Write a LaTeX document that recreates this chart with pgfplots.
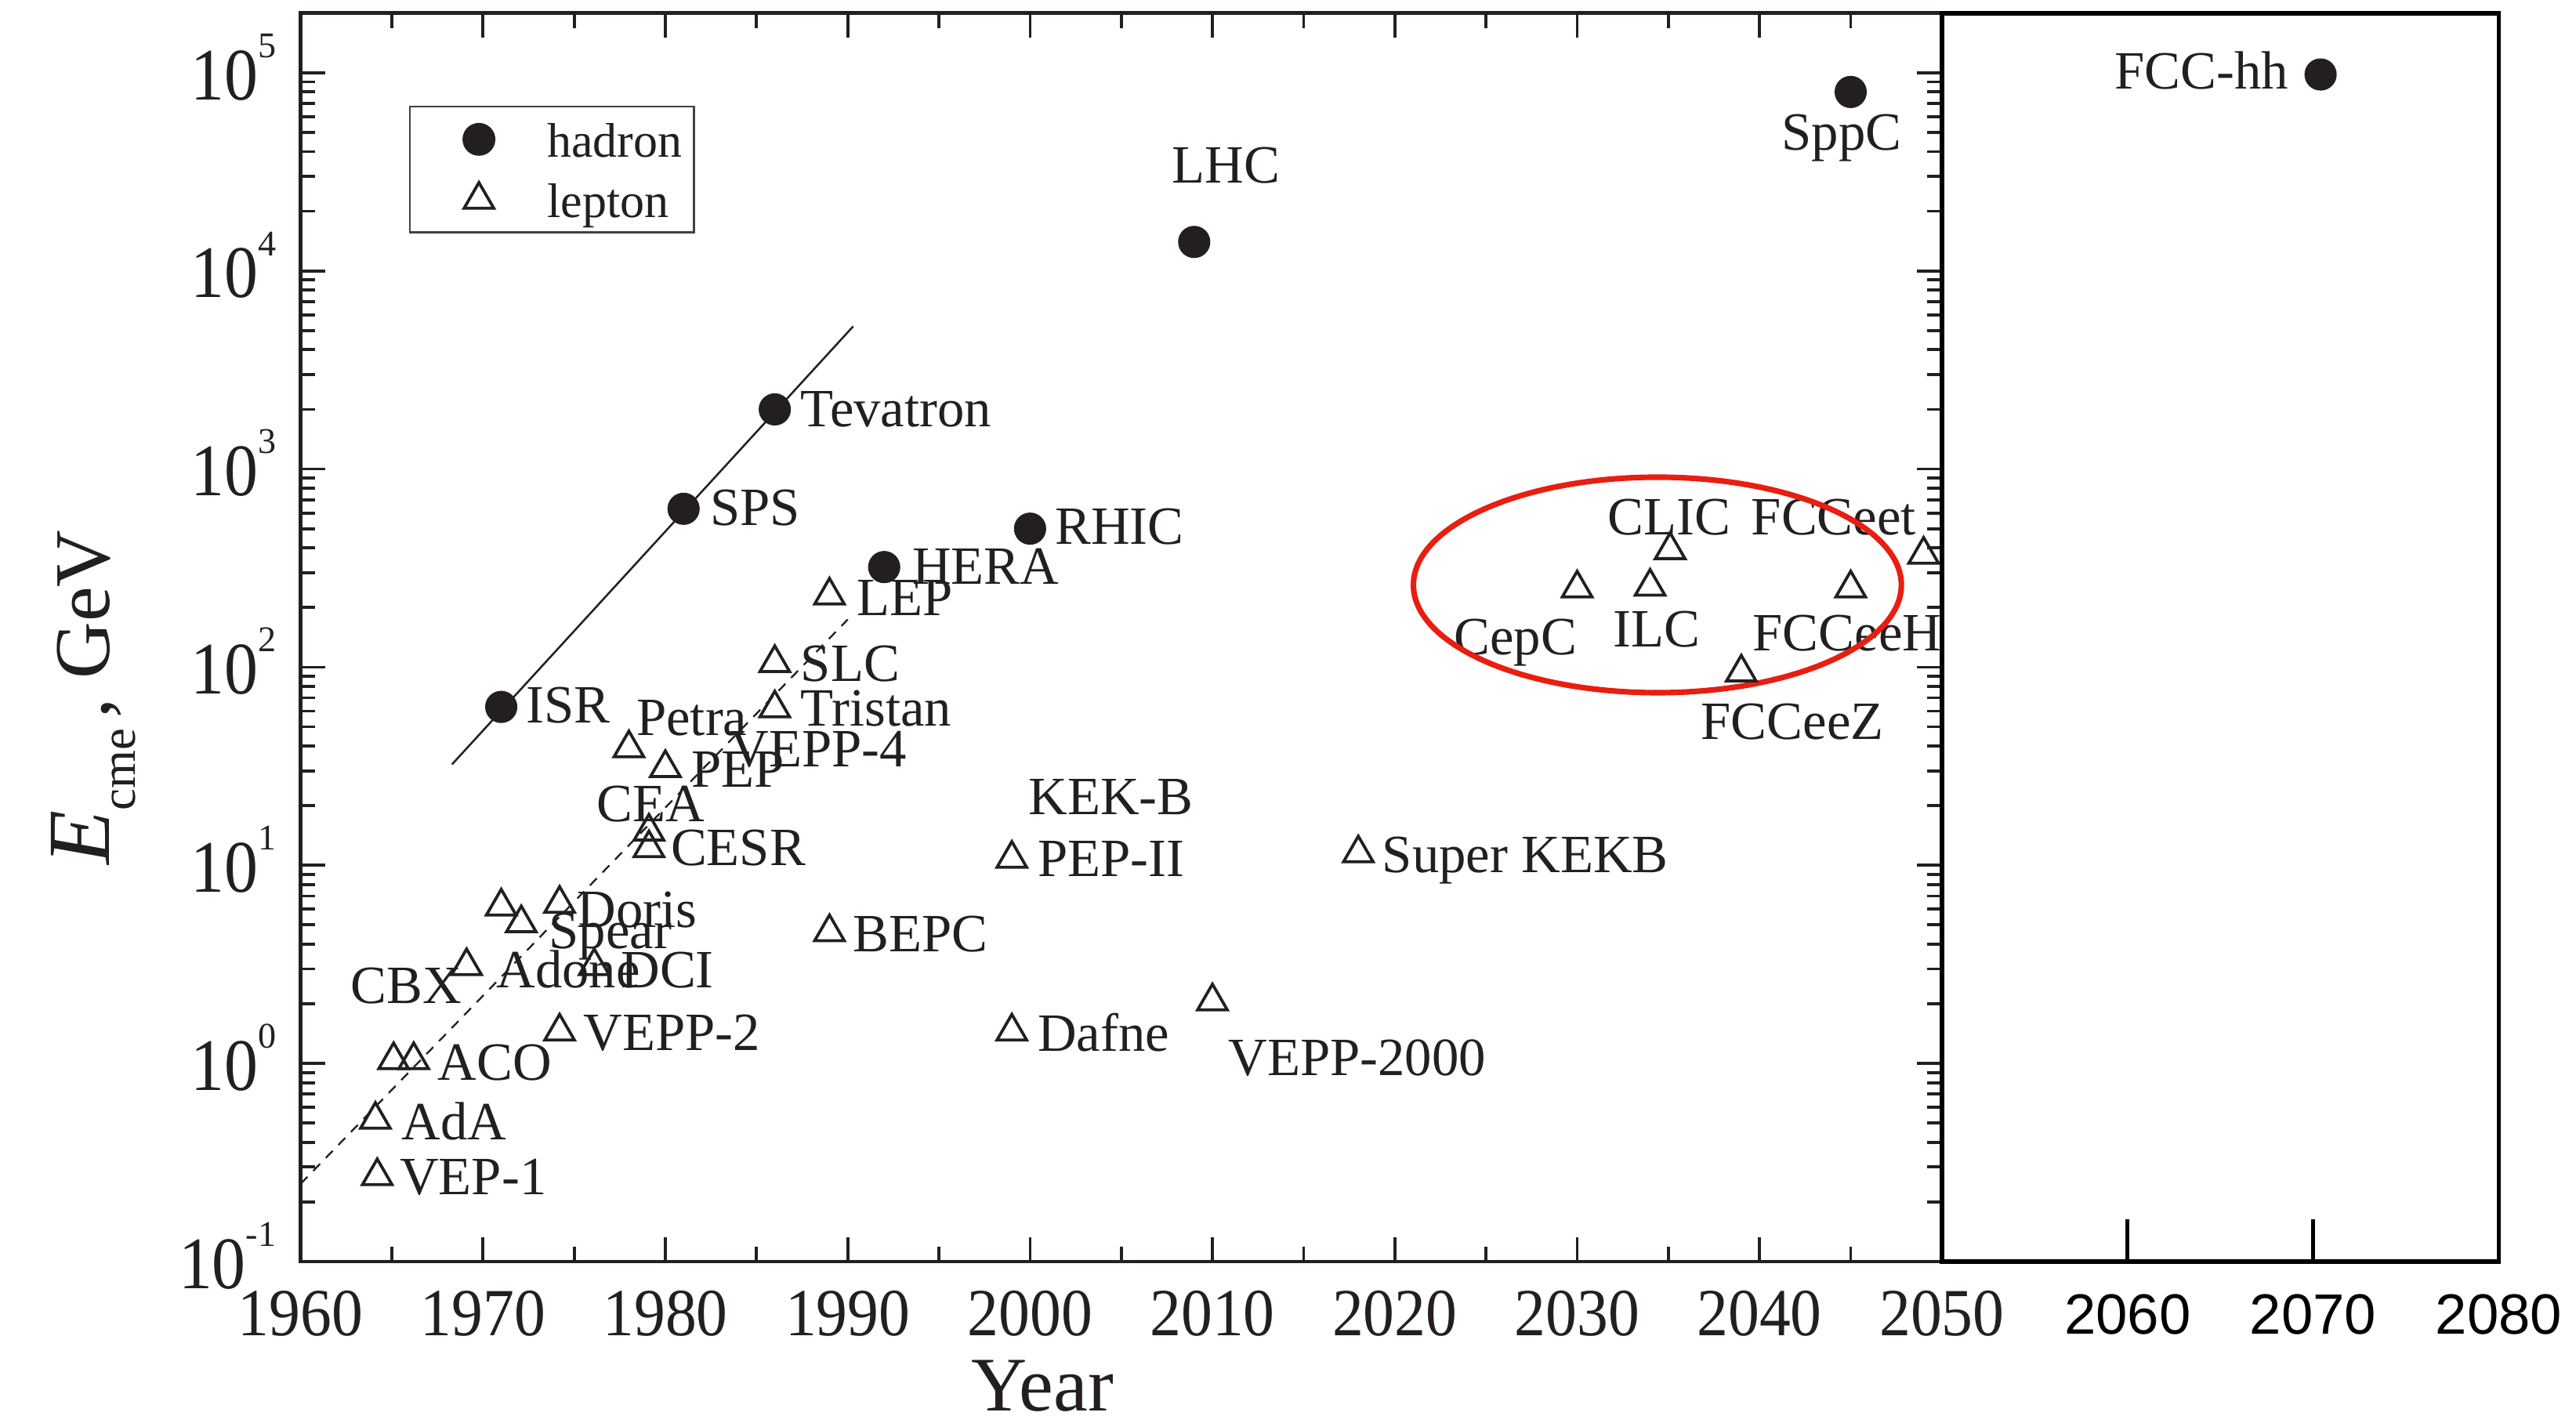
\documentclass[border=0pt]{standalone}
\usepackage{fontspec}
\setmainfont{Liberation Serif}
\newfontfamily\arial{Liberation Sans}
\usepackage{graphicx}
\usepackage{pgfplots}
\usepackage{pgfplotstable}
\pgfplotsset{compat=1.18}

\definecolor{ink}{RGB}{35,31,32}
\definecolor{ring}{RGB}{232,30,16}

% centre-of-mass energy (GeV) against year of operation
\pgfplotstableread{
year   E
1971   63
1981   630
1986   2000
1992   320
2000   500
2009   14000
2045   80000
}\hadrons

\pgfplotstableread{
year    E
1964.2  0.27
1964.1  0.52
1965.1  1.04
1966.2  1.04
1969.1  3.1
1971.0  6.2
1972.1  5.1
1974.2  6.4
1974.2  1.45
1976.1  3.1
1978.0  39
1979.1  14.8
1979.1  12.2
1980.0  31
1986.0  105
1986.0  62
1989.0  230
1989.0  4.6
1999.0  10.8
1999.0  1.45
2010.0  2.06
2018.0  11.5
2030.0  250
2034.0  255
2035.1  390
2039.0  94
2045.0  250
2049.0  370
}\leptons

\pgfplotstableread{
year    E
2070.4  98000
}\future

\pgfplotsset{
  legimg/.style={legend image code/.code={%
      \path (-17.2pt,0pt) (20.5pt,0pt);
      \draw[##1] plot coordinates {(0pt,0pt)};}},
  hadron/.style={only marks, mark=*, mark size=4.7pt, ink, mark options={fill=ink}},
  lepton/.style={only marks, mark=triangle, mark size=5.2pt, ink, mark options={line width=0.9pt}},
}

\tikzset{
  lab/.style={anchor=base west, inner sep=0pt, yshift=-5.4pt,
              font=\fontsize{16.4}{17}\selectfont, text=ink},
  labc/.style={lab, anchor=base},
}

\begin{document}
\begin{tikzpicture}
\begin{axis}[
  name=main,
  scale only axis, width=499.5pt, height=380pt,
  xmin=1960, xmax=2050,
  ymode=log, ymin=0.1, ymax=2e5,
  clip=false,
  /pgf/number format/assume math mode=true,
  axis line style={ink, line width=1.1pt},
  tick style={ink, line width=0.9pt},
  tick align=inside,
  major tick length=7.5pt, minor tick length=4.5pt,
  xtick={1960,1970,...,2050},
  minor xtick={1965,1975,...,2045},
  xticklabel={\scalebox{1}[1.08]{\pgfmathprintnumber[fixed,precision=0,1000 sep={}]{\tick}}},
  xticklabel style={anchor=base, inner sep=0pt, yshift=-22.5pt,
                    font=\fontsize{19}{20}\selectfont, text=ink},
  yticklabel={\pgfmathtruncatemacro\ex{round(\tick/2.302585093)}\scalebox{1}[1.1]{10}\raisebox{12.85pt}{\fontsize{11}{11}\selectfont\ex}},
  yticklabel style={anchor=base east, inner sep=0pt, xshift=-7.25pt, yshift=-8.15pt,
                    font=\fontsize{20.5}{21}\selectfont, text=ink},
  legend cell align=left,
  legend style={at={(axis description cs:0.066,0.926)}, anchor=north west,
                draw=ink!85, line width=0.6pt, inner xsep=3.5pt, inner ysep=3pt,
                row sep=4.35pt, column sep=0pt,
                font=\fontsize{14.8}{16}\selectfont, text=ink,
                nodes={inner sep=0pt, text height=12.35pt, text depth=1.65pt}},
]
% trend lines
\addplot[ink, line width=0.6pt, forget plot] coordinates {(1968.3,32.3) (1990.3,5250)};
\addplot[ink, line width=0.55pt, dash pattern=on 3pt off 2.5pt, forget plot]
  coordinates {(1960,0.2466) (1990,174)};

\addplot[hadron, legimg] table[x=year, y=E] {\hadrons};
\addlegendentry{hadron}
\addplot[lepton, legimg] table[x=year, y=E] {\leptons};
\addlegendentry{lepton}

% machine names
\node[labc] at (axis cs:2010.74,34200) {LHC};
\node[labc] at (axis cs:2044.50,50200) {SppC};
\node[lab] at (axis cs:1987.39,2014) {Tevatron};
\node[lab] at (axis cs:1982.43,638) {SPS};
\node[lab] at (axis cs:2001.34,511) {RHIC};
\node[lab] at (axis cs:1993.51,321) {HERA};
\node[lab] at (axis cs:1990.45,223) {LEP};
\node[lab] at (axis cs:1987.39,104) {SLC};
\node[lab] at (axis cs:1972.34,64.3) {ISR};
\node[lab] at (axis cs:1987.39,61.8) {Tristan};
\node[lab] at (axis cs:1978.38,55.7) {Petra};
\node[lab] at (axis cs:1983.51,38.5) {VEPP-4};
\node[lab] at (axis cs:1981.41,30.5) {PEP};
\node[lab] at (axis cs:1976.22,20.4) {CEA};
\node[lab] at (axis cs:1980.27,12.3) {CESR};
\node[lab] at (axis cs:1999.88,22.1) {KEK-B};
\node[lab] at (axis cs:2000.38,10.8) {PEP-II};
\node[lab] at (axis cs:2019.28,11.3) {Super KEKB};
\node[lab] at (axis cs:1975.14,5.98) {Doris};
\node[lab] at (axis cs:1973.59,4.67) {Spear};
\node[lab] at (axis cs:1990.27,4.50) {BEPC};
\node[lab] at (axis cs:1970.70,2.97) {Adone};
\node[lab] at (axis cs:1977.53,2.97) {DCI};
\node[lab] at (axis cs:1962.73,2.48) {CBX};
\node[lab] at (axis cs:1975.48,1.43) {VEPP-2};
\node[lab] at (axis cs:2000.38,1.42) {Dafne};
\node[lab] at (axis cs:2010.84,1.07) {VEPP-2000};
\node[lab] at (axis cs:1967.50,1.01) {ACO};
\node[lab] at (axis cs:1965.52,0.507) {AdA};
\node[lab] at (axis cs:1965.41,0.268) {VEP-1};
\node[lab] at (axis cs:2031.66,573) {CLIC};
\node[lab] at (axis cs:2039.52,573) {FCCeet};
\node[lab] at (axis cs:2023.22,142.6) {CepC};
\node[lab] at (axis cs:2031.93,155.6) {ILC};
\node[lab] at (axis cs:2039.60,148.4) {FCCeeH};
\node[lab] at (axis cs:2036.76,53.1) {FCCeeZ};

% future lepton colliders
\draw[ring, line width=1.7pt] (axis cs:2034.4,260) ellipse [x radius=74.25pt, y radius=32.8pt];

% axis titles
\node[rotate=90, anchor=base, font=\fontsize{24}{26}\selectfont, text=ink]
  at (rel axis cs:-0.1166,0.452)
  {{\fontsize{27}{28}\selectfont\textit{E}}\raisebox{-8pt}{\fontsize{15}{15}\selectfont cme}\hspace{3pt},\hspace{6pt}GeV};
\node[anchor=base, font=\fontsize{23.5}{25}\selectfont, text=ink]
  at (rel axis cs:0.452,-0.1195) {Year};
\end{axis}

\begin{axis}[
  at={(main.south east)}, anchor=south west,
  scale only axis, width=169.5pt, height=380pt,
  xmin=2050, xmax=2080,
  ymode=log, ymin=0.1, ymax=2e5,
  clip=false,
  /pgf/number format/assume math mode=true,
  axis line style={black, line width=1.4pt},
  tick style={black, line width=1.3pt},
  tick align=inside,
  major tick length=13pt,
  xtick={2060,2070,2080}, xtick pos=left,
  ytick=\empty, yminorticks=false, xminorticks=false,
  xticklabel={\pgfmathprintnumber[fixed,precision=0,1000 sep={}]{\tick}},
  xticklabel style={anchor=base, inner sep=0pt, yshift=-22pt,
                    font=\arial\fontsize{17.3}{18}\selectfont, text=black},
]
\addplot[hadron] table[x=year, y=E] {\future};
\node[lab] at (axis cs:2059.29,101900) {FCC-hh};
\end{axis}

\pgfresetboundingbox
\path (-91.5pt,-49pt) rectangle (692.5pt,384pt);
\end{tikzpicture}
\end{document}
